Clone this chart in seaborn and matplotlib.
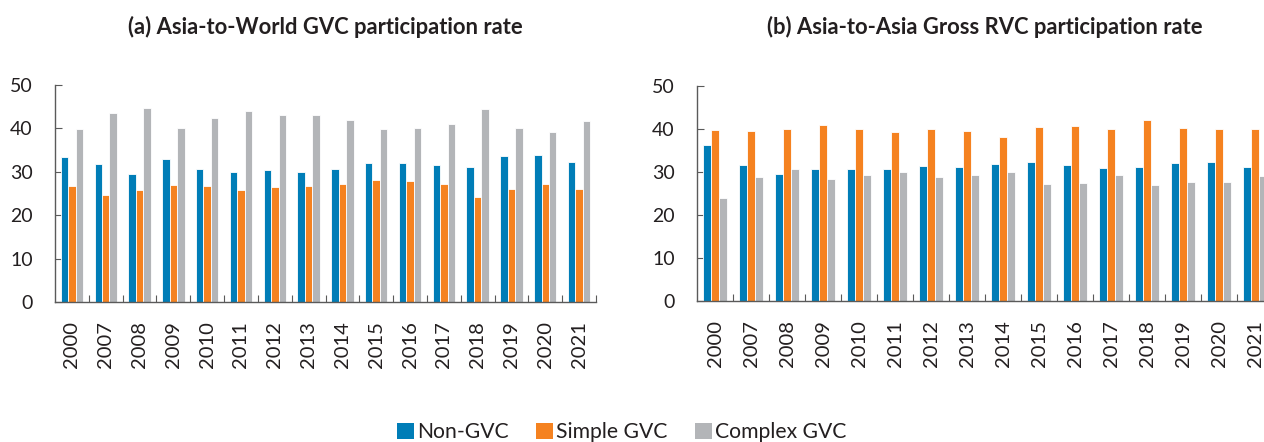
import matplotlib

matplotlib.use("Agg")
import matplotlib.pyplot as plt
import numpy as np
import pandas as pd
import seaborn as sns
from matplotlib.patches import Patch

years = ["2000", "2007", "2008", "2009", "2010", "2011", "2012", "2013",
         "2014", "2015", "2016", "2017", "2018", "2019", "2020", "2021"]
series = ["Non-GVC", "Simple GVC", "Complex GVC"]
colors = ["#007DB7", "#F58220", "#B3B5B8"]

# (a) Asia-to-World GVC participation rate
world_non_gvc = [33.3, 31.8, 29.6, 32.9, 30.6, 29.9, 30.3, 30.0,
                 30.7, 32.1, 32.1, 31.5, 31.2, 33.6, 33.8, 32.3]
world_simple = [26.7, 24.6, 25.7, 26.9, 26.8, 25.9, 26.6, 26.7,
                27.3, 28.0, 27.8, 27.3, 24.3, 26.0, 27.1, 26.0]
world_complex = [39.9, 43.5, 44.6, 40.2, 42.5, 44.1, 43.1, 43.2,
                 41.9, 39.9, 40.0, 41.0, 44.4, 40.2, 39.1, 41.6]

# (b) Asia-to-Asia Gross RVC participation rate
asia_non_gvc = [36.3, 31.6, 29.5, 30.6, 30.7, 30.6, 31.3, 31.2,
                31.9, 32.3, 31.7, 30.9, 31.1, 32.0, 32.4, 31.1]
asia_simple = [39.7, 39.6, 39.9, 41.0, 40.0, 39.4, 40.0, 39.6,
               38.1, 40.4, 40.8, 39.9, 42.0, 40.2, 40.0, 39.9]
asia_complex = [23.9, 28.9, 30.6, 28.4, 29.3, 30.0, 28.8, 29.2,
                29.9, 27.3, 27.5, 29.2, 26.9, 27.7, 27.7, 29.1]

TEXT = "#231F20"
SPINE = "#5A5A5A"


def long_frame(non_gvc, simple, complex_):
    return pd.DataFrame({
        "year": years * 3,
        "series": np.repeat(series, len(years)),
        "value": non_gvc + simple + complex_,
    })


def draw_panel(ax, df, title):
    sns.barplot(data=df, x="year", y="value", hue="series", order=years,
                hue_order=series, palette=colors, width=0.66,
                edgecolor="white", linewidth=0.6, saturation=1,
                legend=False, ax=ax, errorbar=None)
    ax.set_xlim(-0.5, len(years) - 0.5)
    ax.set_ylim(0, 50)
    ax.set_yticks(range(0, 51, 10))
    ax.set_xlabel("")
    ax.set_ylabel("")
    ax.set_xticks(np.arange(0.5, len(years), 1), minor=True)
    ax.tick_params(axis="x", which="major", length=0, pad=14,
                   labelsize=14.5, labelcolor=TEXT, rotation=90)
    ax.tick_params(axis="x", which="minor", direction="in", length=5,
                   width=0.8, color=SPINE)
    ax.tick_params(axis="y", direction="in", length=5, width=0.8,
                   color=SPINE, pad=16, labelsize=14, labelcolor=TEXT)
    for side in ["top", "right"]:
        ax.spines[side].set_visible(False)
    for side in ["left", "bottom"]:
        ax.spines[side].set_color(SPINE)
        ax.spines[side].set_linewidth(1.0)
    pos = ax.get_position()
    ax.figure.text(pos.x0 + pos.width / 2, 1 - 27 / 442, title,
                   ha="center", va="center", fontsize=15.8,
                   fontweight="bold", color=TEXT)


sns.set_style("ticks")
plt.rcParams["font.family"] = ["Lato", "DejaVu Sans"]

fig = plt.figure(figsize=(12.64, 4.42), dpi=100)
ax_world = fig.add_axes([55 / 1264, 1 - 302 / 442, 541 / 1264, 217 / 442])
ax_asia = fig.add_axes([697 / 1264, 1 - 301 / 442, 576 / 1264, 215 / 442])

draw_panel(ax_world, long_frame(world_non_gvc, world_simple, world_complex),
           "(a) Asia-to-World GVC participation rate")
draw_panel(ax_asia, long_frame(asia_non_gvc, asia_simple, asia_complex),
           "(b) Asia-to-Asia Gross RVC participation rate")

handles = [Patch(facecolor=c, edgecolor="none", label=s)
           for c, s in zip(colors, series)]
fig.legend(handles=handles, loc="center", bbox_to_anchor=(622 / 1264, 1 - 432 / 442),
           ncol=3, frameon=False, fontsize=15.2, handlelength=0.8,
           handleheight=0.8, handletextpad=0.15, columnspacing=1.3,
           labelcolor=TEXT)

fig.savefig("out.png", dpi=100)
